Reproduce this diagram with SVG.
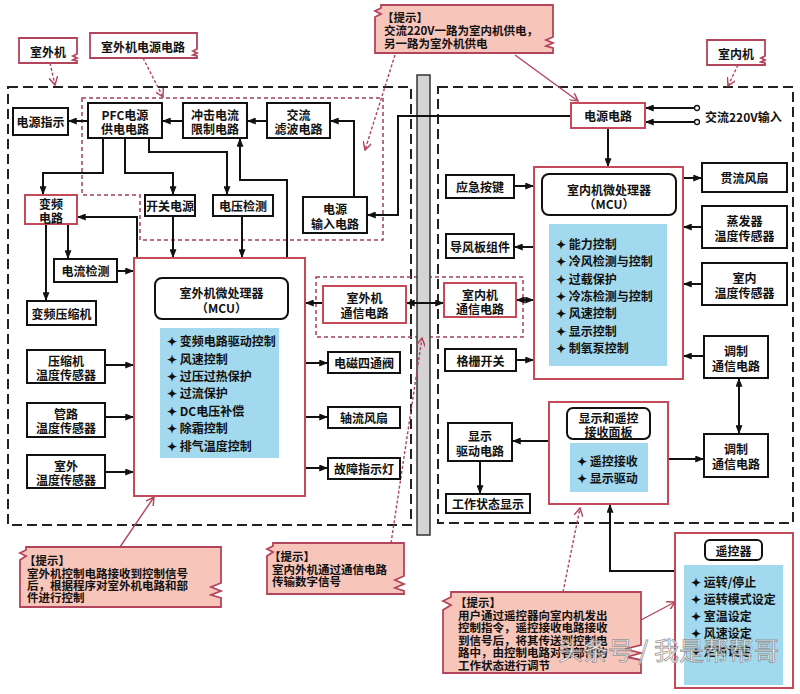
<svg xmlns="http://www.w3.org/2000/svg" width="800" height="694" viewBox="0 0 800 694">
<defs>
<marker id="ah" viewBox="0 0 10 8" markerWidth="9" markerHeight="7" refX="10" refY="4" orient="auto-start-reverse" markerUnits="userSpaceOnUse"><path d="M0,0 L10,4 L0,8 Z" fill="#111"/></marker>
<marker id="pa" viewBox="0 0 10 10" markerWidth="9" markerHeight="9" refX="9" refY="5" orient="auto" markerUnits="userSpaceOnUse"><path d="M0,0 L9,5 L0,10" fill="none" stroke="#b2445c" stroke-width="1.6"/></marker>
</defs>
<style>
.box{fill:#fff;stroke:#111;stroke-width:2}
.pbox{fill:#fff;stroke:#c44a5a;stroke-width:2}
.rbox{fill:#fff;stroke:#111;stroke-width:2}
.blue{fill:#a3d9ee}
.t{font-family:"Noto Sans CJK SC","Liberation Sans",sans-serif;font-weight:bold;font-size:12px;fill:#111;text-anchor:middle;dominant-baseline:central}
.s{text-anchor:start}
.tt{font-size:11.5px}
.tip{fill:#f7c5b9;stroke:#b2445c;stroke-width:1.8}
.lab{fill:#fff;stroke:#b2445c;stroke-width:1.8}
.dash{fill:none;stroke:#222;stroke-width:2;stroke-dasharray:10 5}
.pdash{fill:none;stroke:#a04060;stroke-width:1.5;stroke-dasharray:4 3}
.ln{fill:none;stroke:#111;stroke-width:2;marker-end:url(#ah)}
.dl{fill:none;stroke:#111;stroke-width:2;marker-end:url(#ah);marker-start:url(#ah)}
.pl{fill:none;stroke:#b2445c;stroke-width:1.4;stroke-dasharray:3 2;marker-end:url(#pa)}
.ps{fill:none;stroke:#b2445c;stroke-width:1.4;marker-end:url(#pa)}
</style>
<rect width="800" height="694" fill="#fff"/>
<g id="containers">
<rect x="8" y="87" width="403" height="438" class="dash"/>
<rect x="438" y="87" width="355" height="436" class="dash"/>
<path d="M82,98 H383 V240 H140 V195 H82 Z" class="pdash"/>
<rect x="316" y="277" width="207" height="60" class="pdash"/>
<rect x="417" y="75" width="13" height="460" fill="#d4d4d4" stroke="#333" stroke-width="1.5"/>
</g>
<g id="connectors">
<path d="M88,121 H68" class="ln"/>
<path d="M183,121 H162" class="ln"/>
<path d="M267,121 H247" class="ln"/>
<path d="M354,197 V121 H330" class="ln"/>
<path d="M571,116 H398 V215 H367" class="ln"/>
<path d="M103,138 V173 H43 V195" class="ln"/>
<path d="M125,138 V173 H173 V195" class="ln"/>
<path d="M149,138 V152 H227 V195" class="ln"/>
<path d="M173,216 V258" class="ln"/>
<path d="M242,216 V258" class="ln"/>
<path d="M287,258 V180 H240 V138" class="ln"/>
<path d="M137,258 V217 H77" class="ln"/>
<path d="M68,224 V259" class="ln"/>
<path d="M46,224 V301" class="ln"/>
<path d="M117,271 H134" class="ln"/>
<path d="M105,365 H134" class="ln"/>
<path d="M105,417 H134" class="ln"/>
<path d="M105,472 H134" class="ln"/>
<path d="M305,363 H328" class="ln"/>
<path d="M305,417 H328" class="ln"/>
<path d="M305,468 H328" class="ln"/>
<path d="M323,303 H305" class="ln"/>
<path d="M406,303 H444" class="dl"/>
<path d="M608,128 V167" class="ln"/>
<path d="M695,108 H645" class="ln"/>
<path d="M695,122 H645" class="ln"/>
<path d="M514,186 H534" class="ln"/>
<path d="M534,247 H514" class="ln"/>
<path d="M516,300 H534" class="dl"/>
<path d="M516,360 H534" class="ln"/>
<path d="M683,178 H702" class="ln"/>
<path d="M702,227 H683" class="ln"/>
<path d="M702,284 H683" class="ln"/>
<path d="M704,356 H683" class="ln"/>
<path d="M739,378 V434" class="dl"/>
<path d="M668,459 H704" class="ln"/>
<path d="M549,441 H512" class="ln"/>
<path d="M480,461 V494" class="ln"/>
<path d="M675,571 H610 V504" class="ln"/>
<circle cx="697" cy="108" r="2.5" fill="#fff" stroke="#111" stroke-width="1.3"/>
<circle cx="697" cy="122" r="2.5" fill="#fff" stroke="#111" stroke-width="1.3"/>
<path d="M50,63 L55,85" class="pl"/>
<path d="M143,58 L163,97" class="pl"/>
<path d="M515,55 L578,101" class="ps"/>
<path d="M395,55 L365,150" class="pl"/>
<path d="M738,65 L728,86" class="pl"/>
<path d="M120,547 L154,497" class="ps"/>
<path d="M391,543 L422,338" class="pl"/>
<path d="M563,592 L580,508" class="pl"/>
<path d="M641,620 L675,602" class="ps"/>
</g>
<g id="label-outdoor"><path d="M19,38 H77 V54 l-4,2 l4,2 l-4,2 l4,1 V63 H19 Z" class="lab"/><text x="48" y="51" class="t">室外机</text></g>
<g id="label-outdoor-power"><path d="M90,33 H197 V49 l-4,2 l4,2 l-4,2 l4,1 V58 H90 Z" class="lab"/><text x="143" y="46" class="t">室外机电源电路</text></g>
<g id="label-indoor"><path d="M707,40 H765 V56 l-4,2 l4,2 l-4,2 l4,1 V65 H707 Z" class="lab"/><text x="736" y="53" class="t">室内机</text></g>
<g id="tip-top"><path d="M381,5 H553 V37 l-7,3 l7,3 l-7,3 l7,2 V53 H375 V17 l6,-3 l-6,-3 l6,-3 Z" class="tip"/>
<text x="382" y="17" class="t s tt">【提示】</text><text x="384" y="30" class="t s tt">交流220V一路为室内机供电，</text><text x="384" y="43" class="t s tt">另一路为室外机供电</text></g>
<g id="n-power-ind"><rect x="13" y="108" width="55" height="27" class="box"/><text x="40.5" y="121.5" class="t">电源指示</text></g>
<g id="n-pfc"><rect x="88" y="103" width="74" height="35" class="box"/><text x="125" y="114" class="t">PFC电源</text><text x="125" y="128" class="t">供电电路</text></g>
<g id="n-surge"><rect x="183" y="103" width="64" height="35" class="box"/><text x="215" y="114" class="t">冲击电流</text><text x="215" y="128" class="t">限制电路</text></g>
<g id="n-acfilter"><rect x="267" y="103" width="63" height="35" class="box"/><text x="298.5" y="114" class="t">交流</text><text x="298.5" y="128" class="t">滤波电路</text></g>
<g id="n-power-in"><rect x="303" y="197" width="64" height="36" class="box"/><text x="335" y="208" class="t">电源</text><text x="335" y="223" class="t">输入电路</text></g>
<g id="n-inverter"><rect x="25" y="195" width="52" height="29" class="pbox"/><text x="51" y="203" class="t">变频</text><text x="51" y="217" class="t">电路</text></g>
<g id="n-smps"><rect x="145" y="195" width="50" height="21" class="box"/><text x="170" y="205.5" class="t">开关电源</text></g>
<g id="n-vdet"><rect x="213" y="195" width="60" height="21" class="box"/><text x="243" y="205.5" class="t">电压检测</text></g>
<g id="n-idet"><rect x="54" y="259" width="63" height="23" class="box"/><text x="85.5" y="270.5" class="t">电流检测</text></g>
<g id="n-comp"><rect x="27" y="301" width="69" height="24" class="box"/><text x="61.5" y="313" class="t">变频压缩机</text></g>
<g id="n-mcu-out"><rect x="134" y="258" width="171" height="238" class="pbox"/>
<rect x="155" y="278" width="133" height="41" rx="7" class="rbox"/><text x="221.5" y="292" class="t">室外机微处理器</text><text x="221.5" y="307" class="t">（MCU）</text>
<rect x="160" y="328" width="119" height="130" class="blue"/>
<text x="167" y="340" class="t s">✦ 变频电路驱动控制</text><text x="167" y="358" class="t s">✦ 风速控制</text><text x="167" y="375" class="t s">✦ 过压过热保护</text><text x="167" y="392" class="t s">✦ 过流保护</text><text x="167" y="410" class="t s">✦ DC电压补偿</text><text x="167" y="427" class="t s">✦ 除霜控制</text><text x="167" y="445" class="t s">✦ 排气温度控制</text></g>
<g id="n-comp-temp"><rect x="27" y="350" width="78" height="33" class="box"/><text x="66" y="360" class="t">压缩机</text><text x="66" y="374" class="t">温度传感器</text></g>
<g id="n-pipe-temp"><rect x="27" y="403" width="78" height="34" class="box"/><text x="66" y="413" class="t">管路</text><text x="66" y="427" class="t">温度传感器</text></g>
<g id="n-out-temp"><rect x="27" y="455" width="78" height="33" class="box"/><text x="66" y="465" class="t">室外</text><text x="66" y="479" class="t">温度传感器</text></g>
<g id="n-valve"><rect x="328" y="352" width="72" height="21" class="box"/><text x="364" y="362.5" class="t">电磁四通阀</text></g>
<g id="n-axfan"><rect x="328" y="407" width="72" height="21" class="box"/><text x="364" y="417.5" class="t">轴流风扇</text></g>
<g id="n-fault"><rect x="328" y="458" width="72" height="21" class="box"/><text x="364" y="468.5" class="t">故障指示灯</text></g>
<g id="n-comm-out"><rect x="323" y="286" width="83" height="37" class="pbox"/><text x="364.5" y="297" class="t">室外机</text><text x="364.5" y="312" class="t">通信电路</text></g>
<g id="n-power-indoor"><rect x="571" y="103" width="74" height="25" class="pbox"/><text x="608" y="115.5" class="t">电源电路</text></g>
<text x="705" y="116" class="t s">交流220V输入</text>
<g id="n-mcu-in"><rect x="534" y="167" width="149" height="212" class="pbox"/>
<rect x="542" y="174" width="134" height="41" rx="7" class="rbox"/><text x="609" y="189" class="t">室内机微处理器</text><text x="609" y="203" class="t">（MCU）</text>
<rect x="549" y="224" width="118" height="142" class="blue"/>
<text x="556" y="243" class="t s">✦ 能力控制</text><text x="556" y="260" class="t s">✦ 冷风检测与控制</text><text x="556" y="278" class="t s">✦ 过载保护</text><text x="556" y="295" class="t s">✦ 冷冻检测与控制</text><text x="556" y="312" class="t s">✦ 风速控制</text><text x="556" y="330" class="t s">✦ 显示控制</text><text x="556" y="347" class="t s">✦ 制氧泵控制</text></g>
<g id="n-emerg"><rect x="446" y="175" width="68" height="23" class="box"/><text x="480" y="186.5" class="t">应急按键</text></g>
<g id="n-louver"><rect x="446" y="234" width="68" height="24" class="box"/><text x="480" y="246" class="t">导风板组件</text></g>
<g id="n-comm-in"><rect x="444" y="283" width="72" height="34" class="pbox"/><text x="480" y="294" class="t">室内机</text><text x="480" y="308" class="t">通信电路</text></g>
<g id="n-grille"><rect x="445" y="349" width="71" height="22" class="box"/><text x="480.5" y="360" class="t">格栅开关</text></g>
<g id="n-crossfan"><rect x="702" y="163" width="85" height="29" class="box"/><text x="744.5" y="177.5" class="t">贯流风扇</text></g>
<g id="n-evap"><rect x="702" y="206" width="85" height="42" class="box"/><text x="744.5" y="220" class="t">蒸发器</text><text x="744.5" y="235" class="t">温度传感器</text></g>
<g id="n-room"><rect x="702" y="263" width="85" height="42" class="box"/><text x="744.5" y="277" class="t">室内</text><text x="744.5" y="292" class="t">温度传感器</text></g>
<g id="n-mod1"><rect x="704" y="336" width="64" height="42" class="box"/><text x="736" y="350" class="t">调制</text><text x="736" y="365" class="t">通信电路</text></g>
<g id="n-mod2"><rect x="704" y="434" width="64" height="43" class="box"/><text x="736" y="448" class="t">调制</text><text x="736" y="463" class="t">通信电路</text></g>
<g id="n-panel"><rect x="549" y="402" width="119" height="102" class="pbox"/>
<rect x="567" y="408" width="83" height="31" rx="6" class="rbox"/><text x="608.5" y="417" class="t">显示和遥控</text><text x="608.5" y="431" class="t">接收面板</text>
<rect x="570" y="443" width="78" height="49" class="blue"/>
<text x="577" y="460" class="t s">✦ 遥控接收</text><text x="577" y="477" class="t s">✦ 显示驱动</text></g>
<g id="n-disp-drv"><rect x="448" y="423" width="64" height="38" class="box"/><text x="480" y="435" class="t">显示</text><text x="480" y="450" class="t">驱动电路</text></g>
<g id="n-status"><rect x="446" y="494" width="84" height="19" class="box"/><text x="488" y="503.5" class="t">工作状态显示</text></g>
<g id="n-remote"><rect x="675" y="533" width="118" height="155" class="pbox"/>
<rect x="705" y="540" width="57" height="20" rx="5" class="rbox"/><text x="733.5" y="550" class="t">遥控器</text>
<rect x="684" y="565" width="99" height="120" class="blue"/>
<text x="691" y="581" class="t s">✦ 运转/停止</text><text x="691" y="598" class="t s">✦ 运转模式设定</text><text x="691" y="615" class="t s">✦ 室温设定</text><text x="691" y="632" class="t s">✦ 风速设定</text><text x="691" y="650" class="t s">✦ 定时设定</text></g>
<g id="tip-bl1"><path d="M26,547 H221 V583 l-10,4 l10,4 l-10,4 l10,3 V607 H20 V560 l6,-4 l-6,-3 l6,-3 Z" class="tip"/>
<text x="24" y="560" class="t s tt">【提示】</text><text x="27" y="572.5" class="t s tt">室外机控制电路接收到控制信号</text><text x="27" y="584.5" class="t s tt">后，根据程序对室外机电路和部</text><text x="27" y="596.5" class="t s tt">件进行控制</text></g>
<g id="tip-bl2"><path d="M273,543 H404 V576 l-9,4 l9,4 l-9,4 l9,3 V594 H267 V556 l6,-4 l-6,-3 l6,-3 Z" class="tip"/>
<text x="269" y="556" class="t s tt">【提示】</text><text x="272" y="568.5" class="t s tt">室内外机通过通信电路</text><text x="272" y="580.5" class="t s tt">传输数字信号</text></g>
<g id="tip-br"><path d="M451,592 H641 V645 l-16,4 l16,4 l-14,4 l14,3 V673 H443 V610 l8,-5 l-8,-4 l8,-4 Z" class="tip"/>
<text x="455" y="602" class="t s tt">【提示】</text><text x="458" y="614.5" class="t s tt">用户通过遥控器向室内机发出</text><text x="458" y="627" class="t s tt">控制指令，遥控接收电路接收</text><text x="458" y="639.5" class="t s tt">到信号后，将其传送到控制电</text><text x="458" y="652" class="t s tt">路中，由控制电路对各部件的</text><text x="458" y="664.5" class="t s tt">工作状态进行调节</text></g>
<text x="558" y="660" font-family="'Noto Sans CJK SC',sans-serif" font-size="25" fill="#fff" stroke="#8a8a8a" stroke-width="0.8" opacity="0.85">头条号 / 我是帮帮哥</text>
</svg>
